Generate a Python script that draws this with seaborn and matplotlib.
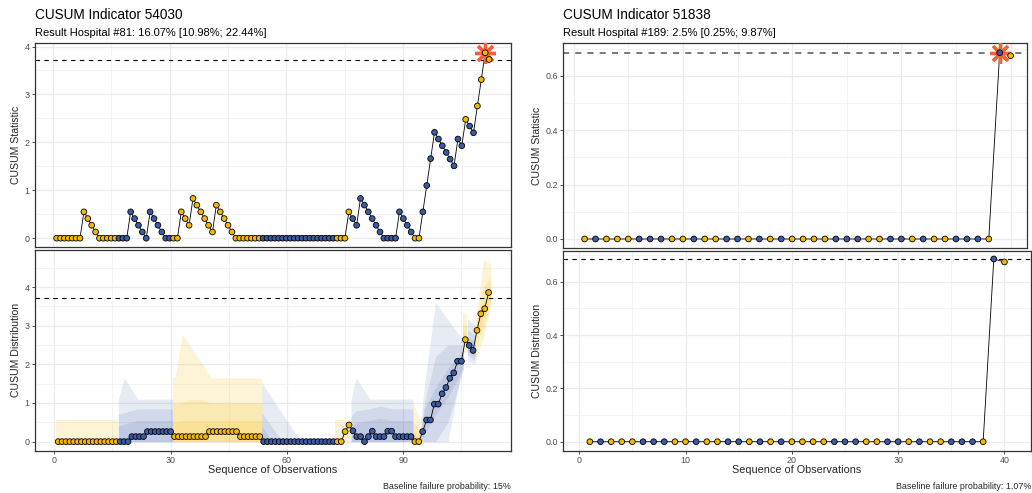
import numpy as np
import pandas as pd
import matplotlib
matplotlib.use("Agg")
import matplotlib.pyplot as plt
import seaborn as sns
from matplotlib.ticker import MultipleLocator, FormatStrFormatter

# ---------------- data ----------------
YEL = "#F5B800"
BLU = "#3B5BA5"
STAR = "#F4623A"

left_title = "CUSUM Indicator 54030"
left_subtitle = "Result Hospital #81: 16.07% [10.98%; 22.44%]"
left_caption = "Baseline failure probability: 15%"
left_threshold = 3.72
left_signal_obs = 111

left_stat = [0, 0, 0, 0, 0, 0, 0, 0.55, 0.41, 0.27,
             0.13, 0, 0, 0, 0, 0, 0, 0, 0, 0.55,
             0.41, 0.27, 0.13, 0, 0.55, 0.41, 0.27, 0.13, 0, 0,
             0, 0, 0.55, 0.41, 0.27, 0.83, 0.69, 0.55, 0.41, 0.27,
             0.13, 0.69, 0.55, 0.41, 0.27, 0.13, 0, 0, 0, 0,
             0, 0, 0, 0, 0, 0, 0, 0, 0, 0,
             0, 0, 0, 0, 0, 0, 0, 0, 0, 0,
             0, 0, 0, 0, 0, 0.55, 0.41, 0.27, 0.83, 0.69,
             0.55, 0.41, 0.27, 0.13, 0, 0, 0, 0, 0.55, 0.41,
             0.27, 0.13, 0, 0, 0.55, 1.10, 1.66, 2.21, 2.07, 1.93,
             1.79, 1.65, 1.51, 2.07, 1.93, 2.48, 2.34, 2.20, 2.76, 3.31,
             3.87, 3.73]

left_dist = [0, 0, 0, 0, 0, 0, 0, 0, 0, 0,
             0, 0, 0, 0, 0, 0, 0, 0, 0, 0.13,
             0.13, 0.13, 0.13, 0.26, 0.26, 0.26, 0.26, 0.26, 0.26, 0.26,
             0.13, 0.13, 0.13, 0.13, 0.13, 0.13, 0.13, 0.13, 0.13, 0.26,
             0.26, 0.26, 0.26, 0.26, 0.26, 0.26, 0.26, 0.13, 0.13, 0.13,
             0.13, 0.13, 0.13, 0, 0, 0, 0, 0, 0, 0,
             0, 0, 0, 0, 0, 0, 0, 0, 0, 0,
             0, 0, 0, 0, 0.26, 0.43, 0.28, 0.13, 0.13, 0,
             0.13, 0.27, 0.13, 0.13, 0.13, 0.27, 0.27, 0.13, 0.13, 0.13,
             0.13, 0.13, 0, 0, 0.26, 0.56, 0.56, 0.97, 0.97, 1.24,
             1.40, 1.64, 1.78, 2.08, 2.08, 2.64, 2.49, 2.36, 2.88, 3.31,
             3.44, 3.86]

left_group = list("YYYYYYYYYY" "YYYYYYBBBB" "BBBBBBBBBB" "YYYYYYYYYY"
                  "YYYYYYYYYY" "YYYBBBBBBB" "BBBBBBBBBB" "BBYYYYBBBB"
                  "BBBBBBBBBB" "BBYYBBBBBB" "BBBBBYBBYY" "YY")

# distribution ribbons of the left lower panel (one entry per group)
band_group = ["Y", "B", "Y", "B", "Y", "B", "Y", "B", "Y", "B", "Y"]
band_x = [[0.5, 16.5],
          [16.5, 18.0, 21.5, 30.5],
          [30.5, 31.2, 33.0, 35.0, 38.0, 40.5, 53.5],
          [53.5, 56.3, 59.0, 63.5, 72.5],
          [72.5, 76.5],
          [76.5, 77.8, 81.4, 84.0, 87.0, 92.5],
          [92.5, 94.5],
          [94.5, 95.5, 98.3, 101.5, 105.5],
          [105.5, 106.5],
          [106.5, 108.5],
          [108.5, 110.7, 112.5]]
band_outer_lo = [[0, 0], [0, 0, 0, 0], [0, 0, 0, 0, 0, 0, 0], [0, 0, 0, 0, 0],
                 [0, 0], [0, 0, 0, 0, 0, 0], [0, 0], [0, 0, 0, 0, 2.1],
                 [2.3, 2.3], [2.1, 2.0], [2.05, 2.7, 3.5]]
band_outer_hi = [[0.56, 0.56], [1.1, 1.65, 1.1, 1.1],
                 [1.65, 1.7, 2.78, 2.48, 2.03, 1.65, 1.65],
                 [1.53, 1.1, 0.7, 0, 0], [0.56, 0.56],
                 [1.08, 1.65, 1.1, 1.1, 1.1, 1.1], [1.0, 0.55],
                 [0.55, 1.5, 3.6, 3.16, 2.6], [3.3, 3.3], [3.2, 3.0],
                 [3.0, 4.72, 4.6]]
band_mid_lo = [[0, 0], [0, 0, 0, 0], [0, 0, 0, 0, 0, 0, 0], [0, 0, 0, 0, 0],
               [0, 0], [0, 0, 0, 0, 0, 0], [0, 0], [0, 0, 0, 0.5, 1.85],
               [2.45, 2.45], [2.25, 2.1], [2.4, 2.95, 3.6]]
band_mid_hi = [[0, 0], [0.7, 0.75, 0.85, 0.85], [0.98, 0.98, 1.0, 1.08, 1.08, 1.0, 1.0],
               [0.75, 0.35, 0, 0, 0], [0, 0], [0.65, 0.8, 0.85, 0.92, 0.85, 0.85],
               [0.5, 0.3], [0.3, 1.0, 2.2, 2.5, 2.5], [3.0, 3.0], [2.9, 2.75],
               [2.95, 4.0, 4.25]]
band_in_lo = [[0, 0], [0, 0, 0, 0], [0, 0, 0, 0, 0, 0, 0], [0, 0, 0, 0, 0],
              [0, 0], [0, 0, 0, 0, 0, 0], [0, 0], [0, 0.2, 0.7, 1.15, 1.9],
              [2.55, 2.55], [2.35, 2.2], [2.7, 3.2, 3.7]]
band_in_hi = [[0, 0], [0.4, 0.45, 0.55, 0.55], [0.52, 0.52, 0.55, 0.55, 0.55, 0.55, 0.55],
              [0.4, 0, 0, 0, 0], [0, 0], [0.35, 0.5, 0.55, 0.6, 0.55, 0.55],
              [0.25, 0.1], [0.2, 0.85, 1.4, 1.9, 2.35], [2.8, 2.8], [2.7, 2.6],
              [2.95, 3.6, 4.0]]

right_title = "CUSUM Indicator 51838"
right_subtitle = "Result Hospital #189: 2.5% [0.25%; 9.87%]"
right_caption = "Baseline failure probability: 1.07%"
right_threshold = 0.685
right_signal_obs = 39

right_stat = [0, 0, 0, 0, 0, 0, 0, 0, 0, 0,
              0, 0, 0, 0, 0, 0, 0, 0, 0, 0,
              0, 0, 0, 0, 0, 0, 0, 0, 0, 0,
              0, 0, 0, 0, 0, 0, 0, 0, 0.685, 0.674]
right_dist = [0, 0, 0, 0, 0, 0, 0, 0, 0, 0,
              0, 0, 0, 0, 0, 0, 0, 0, 0, 0,
              0, 0, 0, 0, 0, 0, 0, 0, 0, 0,
              0, 0, 0, 0, 0, 0, 0, 0, 0.685, 0.674]
right_group = list("YBYYYBBBYY" "BYYBBYBYBY" "YYYBBBYYBB" "YBYYBBBYBY")

# ---------------- styling ----------------
sns.set_theme(style="whitegrid")
plt.rcParams["font.family"] = ["Liberation Sans", "DejaVu Sans"]

W, H = 1032, 493
fig = plt.figure(figsize=(W / 100, H / 100), dpi=100)
PAL = {"Y": YEL, "B": BLU}


def rect(l, r, t, b):
    return [l / W, 1 - b / H, (r - l) / W, (b - t) / H]


def style_axes(ax, xlim, ylim, xmaj, xmin, ymaj, ymin, yfmt, show_x):
    ax.set_xlim(*xlim)
    ax.set_ylim(*ylim)
    ax.set_facecolor("white")
    ax.xaxis.set_major_locator(MultipleLocator(xmaj))
    ax.xaxis.set_minor_locator(MultipleLocator(xmin))
    ax.yaxis.set_major_locator(MultipleLocator(ymaj))
    ax.yaxis.set_minor_locator(MultipleLocator(ymin))
    ax.yaxis.set_major_formatter(FormatStrFormatter(yfmt))
    ax.grid(which="major", color="#EBEBEB", lw=0.9)
    ax.grid(which="minor", color="#F0F0F0", lw=0.55)
    ax.set_axisbelow(True)
    for sp in ax.spines.values():
        sp.set_color("#333333")
        sp.set_linewidth(0.9)
    ax.tick_params(axis="both", which="major", length=2.5, width=0.6,
                   color="#333333", labelsize=6.4, labelcolor="#4D4D4D", pad=1.5,
                   left=True, bottom=show_x, labelbottom=show_x)
    ax.tick_params(axis="both", which="minor", length=0)
    ax.set_xlabel("")
    ax.set_ylabel("")


def draw_series(ax, vals, groups, threshold, signal=None, thr_color="black", thr_lw=0.8):
    df = pd.DataFrame({"obs": np.arange(1, len(vals) + 1), "val": vals, "grp": groups})
    ax.axhline(threshold, color=thr_color, lw=thr_lw, ls=(0, (4, 4)), zorder=2)
    sns.lineplot(data=df, x="obs", y="val", color="black", lw=0.6,
                 estimator=None, sort=False, ax=ax, zorder=3)
    if signal is not None:
        sy = df.loc[df.obs == signal, "val"].iloc[0]
        ax.plot([signal], [sy], marker=(8, 2, 0), ms=15, mew=2.4,
                color=STAR, zorder=4, ls="none")
    sns.scatterplot(data=df, x="obs", y="val", hue="grp", palette=PAL, s=17,
                    edgecolor="black", linewidth=0.6, legend=False, ax=ax, zorder=5)


def draw_bands(ax):
    for i, g in enumerate(band_group):
        col = PAL[g]
        a = 0.16 if g == "Y" else 0.12
        x = band_x[i]
        for lo, hi in ((band_outer_lo, band_outer_hi), (band_mid_lo, band_mid_hi),
                       (band_in_lo, band_in_hi)):
            ax.fill_between(x, lo[i], hi[i], color=col, alpha=a, lw=0, zorder=1)


# ---- left top
ax1 = fig.add_axes(rect(35, 510.7, 42.7, 247.3))
draw_series(ax1, left_stat, left_group, left_threshold, left_signal_obs)
style_axes(ax1, (-4.55, 117.55), (-0.19, 4.08), 30, 15, 1, 0.5, "%d", False)

# ---- left bottom
ax2 = fig.add_axes(rect(35, 510.7, 250, 450.7))
draw_bands(ax2)
draw_series(ax2, left_dist, left_group, left_threshold)
style_axes(ax2, (-4.98, 117.7), (-0.235, 4.96), 30, 15, 1, 0.5, "%d", True)

# ---- right top
ax3 = fig.add_axes(rect(563.3, 1027, 43.3, 248.3))
draw_series(ax3, right_stat, right_group, right_threshold, right_signal_obs,
            thr_color="#555555", thr_lw=1.1)
style_axes(ax3, (-0.95, 41.5), (-0.0343, 0.7196), 10, 5, 0.2, 0.1, "%.1f", False)

# ---- right bottom
ax4 = fig.add_axes(rect(563.3, 1031, 250.7, 450.7))
draw_series(ax4, right_dist, right_group, right_threshold)
style_axes(ax4, (-1.5, 42.5), (-0.0337, 0.716), 10, 5, 0.2, 0.1, "%.1f", True)

# ---- texts
for x0, t, s in ((35, left_title, left_subtitle), (563.3, right_title, right_subtitle)):
    fig.text(x0 / W, 1 - 19.3 / H, t, fontsize=9.8, ha="left", va="baseline", color="black")
    fig.text(x0 / W, 1 - 36 / H, s, fontsize=8.0, ha="left", va="baseline", color="black")

fig.text(16 / W, 1 - 145 / H, "CUSUM Statistic", rotation=90, ha="center", va="center", fontsize=7.6)
fig.text(16 / W, 1 - 350 / H, "CUSUM Distribution", rotation=90, ha="center", va="center", fontsize=7.6)
fig.text(537 / W, 1 - 145.8 / H, "CUSUM Statistic", rotation=90, ha="center", va="center", fontsize=7.6)
fig.text(537 / W, 1 - 350.7 / H, "CUSUM Distribution", rotation=90, ha="center", va="center", fontsize=7.6)

fig.text(272.9 / W, 1 - 473.3 / H, "Sequence of Observations", ha="center", va="baseline", fontsize=7.8)
fig.text(797 / W, 1 - 473.3 / H, "Sequence of Observations", ha="center", va="baseline", fontsize=7.8)

fig.text(510.7 / W, 1 - 489 / H, left_caption, ha="right", va="baseline", fontsize=6.4)
fig.text(1031 / W, 1 - 489 / H, right_caption, ha="right", va="baseline", fontsize=6.4)

fig.savefig("out.png", dpi=100, facecolor="white")
